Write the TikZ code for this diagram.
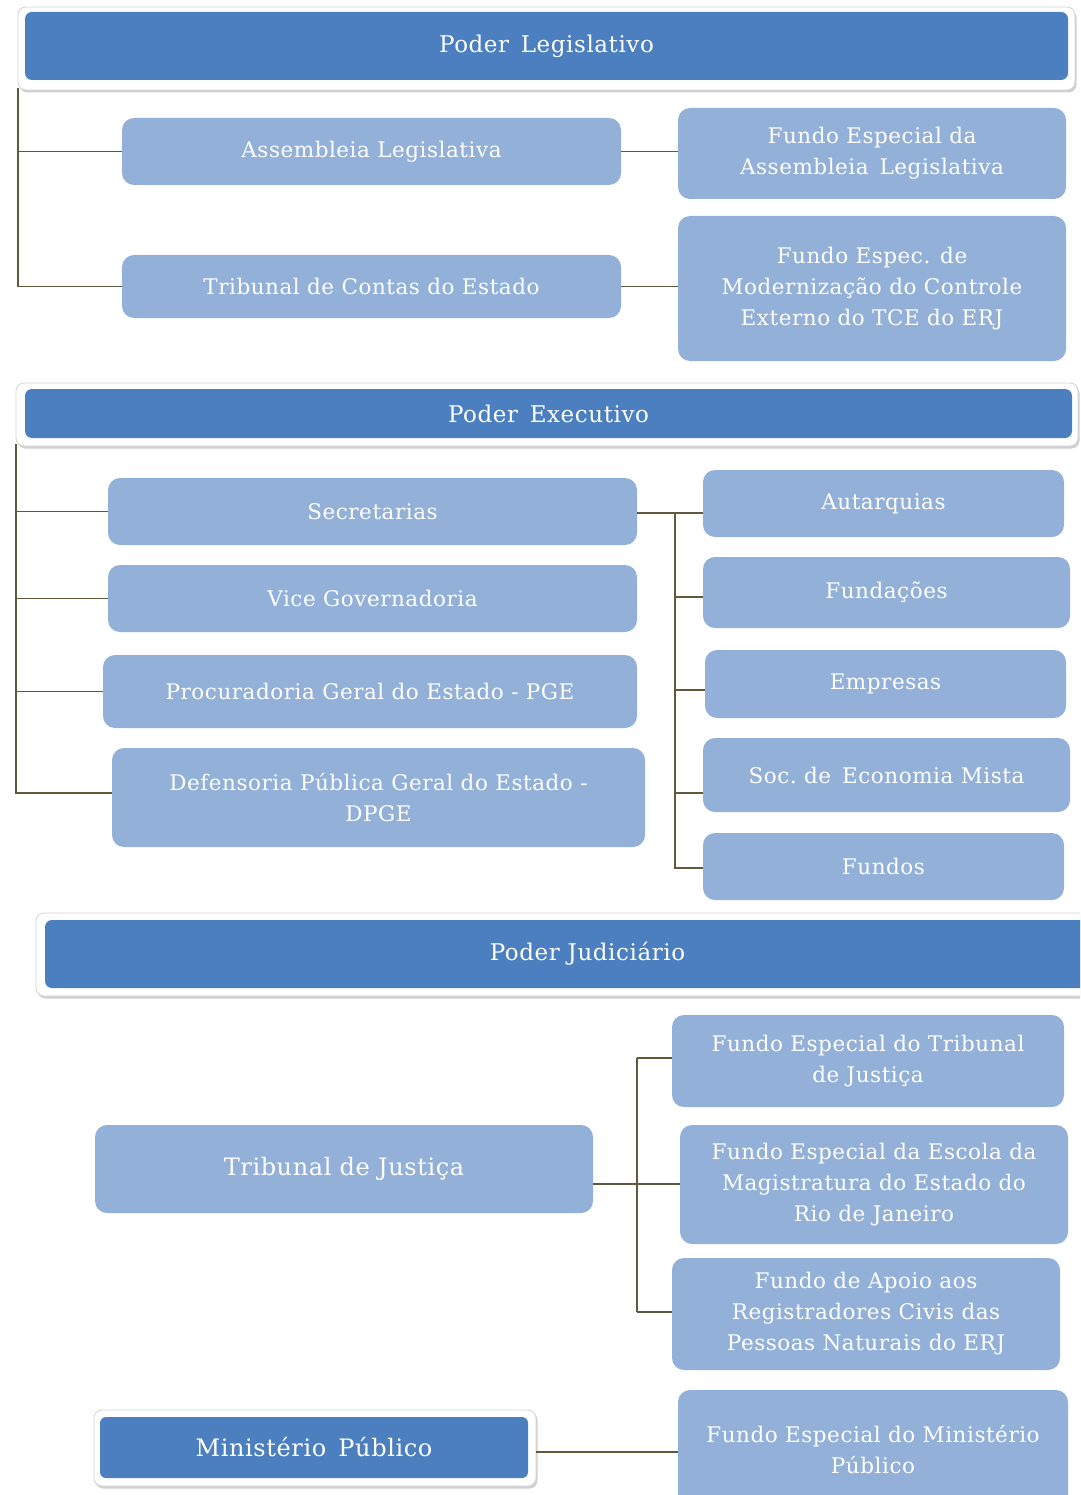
\documentclass[tikz,border=0pt]{standalone}
\usepackage{fontspec}
\setmainfont[LetterSpace=2.5]{DejaVu Serif}
\usetikzlibrary{shadows}
\definecolor{darkb}{HTML}{4B7FBF}
\definecolor{lightb}{HTML}{93B0D8}
\definecolor{connc}{HTML}{5E5A3C}
\tikzset{
  frame/.style={draw=gray!35, fill=white, rounded corners=8pt, line width=0.8pt,
    drop shadow={shadow xshift=1.5pt, shadow yshift=-2.5pt, fill=gray!60, opacity=.6}},
  hbox/.style={fill=darkb, rounded corners=7pt, text=white, font=\fontsize{23}{28}\selectfont, inner sep=0pt},
  lbox/.style={fill=lightb, rounded corners=12pt, text=white, align=center,
    font=\fontsize{21.5}{31}\selectfont, inner sep=0pt},
  big/.style={font=\fontsize{24}{30}\selectfont},
  conn/.style={draw=connc, line width=1.4pt}
}
\begin{document}
\begin{tikzpicture}[x=1pt,y=-1pt]
\useasboundingbox (0,0) rectangle (1080,1495);
\clip (0,0) rectangle (1080,1495);
\fill[white] (0,0) rectangle (1080,1495);

% ---------- Poder Legislativo ----------
\node[frame, minimum width=1057pt, minimum height=83pt] (legF) at (546.5,48.5) {};
\node[hbox, minimum width=1043pt, minimum height=68pt] (leg) at (546.5,46) {Poder\,\ Legislativo};
\node[lbox, minimum width=499pt, minimum height=67pt] (asm) at (371.5,151.5) {Assembleia Legislativa};
\node[lbox, minimum width=499pt, minimum height=63pt] (tce) at (371.5,286.5) {Tribunal de Contas do Estado};
\node[lbox, minimum width=388pt, minimum height=91pt] (fasm) at (872,153.5) {Fundo Especial da\\Assembleia\, Legislativa};
\node[lbox, minimum width=388pt, minimum height=145pt] (ftce) at (872,288.5) {Fundo Espec. de\\Modernização do Controle\\Externo do TCE do ERJ};
\coordinate (legL) at (18,88);
\draw[conn] (legL) -- (legL |- tce.west) -- (tce.west);
\draw[conn] (legL |- asm.west) -- (asm.west);
\draw[conn] (asm.east) -- (asm.east -| fasm.west);
\draw[conn] (tce.east) -- (tce.east -| ftce.west);

% ---------- Poder Executivo ----------
\node[frame, minimum width=1062pt, minimum height=63pt] (exeF) at (547,414.5) {};
\node[hbox, minimum width=1047pt, minimum height=49pt] (exe) at (548.5,413.5) {Poder\,\ Executivo};
\node[lbox, minimum width=529pt, minimum height=67pt] (sec) at (372.5,511.5) {Secretarias};
\node[lbox, minimum width=529pt, minimum height=67pt] (vice) at (372.5,598.5) {Vice Governadoria};
\node[lbox, minimum width=534pt, minimum height=73pt] (pge) at (370,691.5) {Procuradoria Geral do Estado - PGE};
\node[lbox, minimum width=533pt, minimum height=99pt] (dpge) at (378.5,797.5) {Defensoria Pública Geral do Estado -\\DPGE};
\coordinate (exeL) at (16,444);
\draw[conn] (exeL) -- (exeL |- 0,793) -- (dpge.west |- 0,793);
\draw[conn] (exeL |- sec.west) -- (sec.west);
\draw[conn] (exeL |- vice.west) -- (vice.west);
\draw[conn] (exeL |- pge.west) -- (pge.west);

\node[lbox, minimum width=361pt, minimum height=67pt] (aut) at (883.5,503.5) {Autarquias};
\node[lbox, minimum width=367pt, minimum height=71pt] (fun) at (886.5,592.5) {Fundações};
\node[lbox, minimum width=361pt, minimum height=68pt] (emp) at (885.5,684) {Empresas};
\node[lbox, minimum width=367pt, minimum height=74pt] (soc) at (886.5,775) {Soc.\ de\, Economia Mista};
\node[lbox, minimum width=361pt, minimum height=67pt] (fds) at (883.5,866.5) {Fundos};
\coordinate (exeR) at (675,513);
\draw[conn] (sec.east |- 0,513) -- (aut.west |- 0,513);
\draw[conn] (exeR) -- (exeR |- 0,868) -- (fds.west |- 0,868);
\draw[conn] (exeR |- 0,597) -- (fun.west |- 0,597);
\draw[conn] (exeR |- 0,690) -- (emp.west |- 0,690);
\draw[conn] (exeR |- 0,793) -- (soc.west |- 0,793);

% ---------- Poder Judiciário ----------
\node[frame, minimum width=1100pt, minimum height=83pt] (judF) at (586,954.5) {};
\node[hbox, minimum width=1085pt, minimum height=68pt] (jud) at (587.5,954) {Poder Judiciário};
\node[lbox, big, minimum width=498pt, minimum height=88pt] (tj) at (344,1169) {Tribunal de Justiça};
\node[lbox, minimum width=392pt, minimum height=92pt] (ftj) at (868,1061) {Fundo Especial do Tribunal\\de Justiça};
\node[lbox, minimum width=388pt, minimum height=119pt] (femerj) at (874,1184.5) {Fundo Especial da Escola da\\Magistratura do Estado do\\Rio de Janeiro};
\node[lbox, minimum width=388pt, minimum height=112pt] (farpen) at (866,1314) {Fundo de Apoio aos\\Registradores Civis das\\Pessoas Naturais do ERJ};
\coordinate (judR) at (637,1184);
\draw[conn] (tj.east |- judR) -- (femerj.west |- judR);
\draw[conn] (judR |- 0,1058) -- (judR |- 0,1312);
\draw[conn] (judR |- 0,1058) -- (ftj.west |- 0,1058);
\draw[conn] (judR |- 0,1312) -- (farpen.west |- 0,1312);

% ---------- Ministério Público ----------
\node[frame, minimum width=442pt, minimum height=76pt] (mpF) at (315,1448) {};
\node[hbox, big, rounded corners=6pt, minimum width=428pt, minimum height=61pt] (mp) at (314,1447.5) {Ministério\, Público};
\node[lbox, minimum width=390pt, minimum height=120pt] (fmp) at (873,1450) {Fundo Especial do Ministério\\Público};
\draw[conn] (mpF.east |- 0,1452) -- (fmp.west |- 0,1452);
\end{tikzpicture}
\end{document}
